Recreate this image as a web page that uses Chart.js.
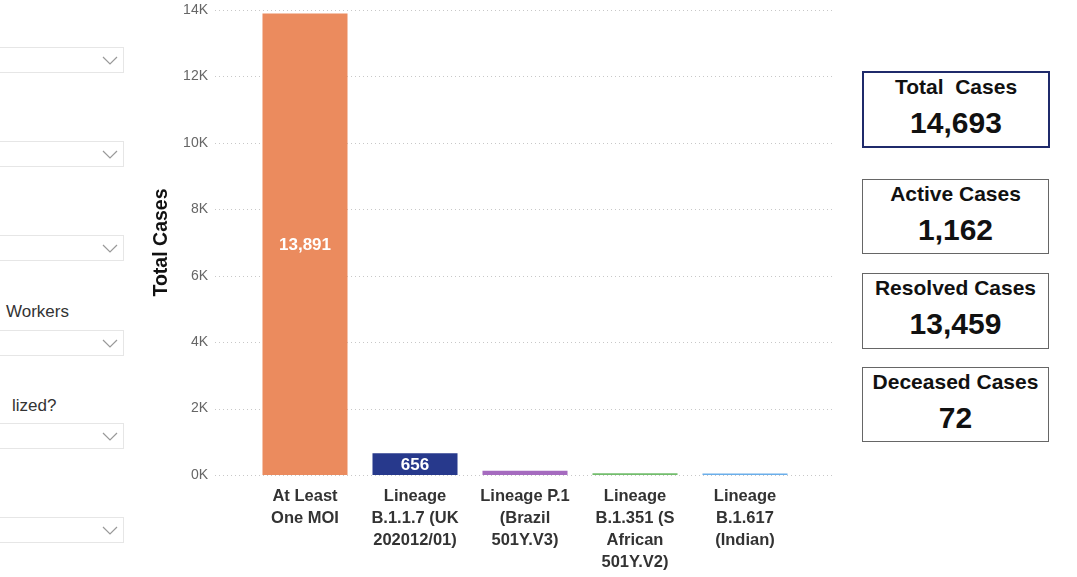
<!DOCTYPE html>
<html>
<head>
<meta charset="utf-8">
<script src="https://cdn.jsdelivr.net/npm/chart.js@4"></script>
<style>
    body { margin: 0; width: 1077px; height: 577px; background: #fff; position: relative; overflow: hidden;
           font-family: "Liberation Sans", Arial, sans-serif; }
    .drop { position: absolute; left: -2px; width: 124px; height: 24px; border: 1px solid #e6e6e6; background: #fff; }
    .drop svg { position: absolute; right: 5px; top: 8px; }
    .lbl { position: absolute; font-size: 17px; color: #333; }
    #chart { position: absolute; left: 140px; top: 0; }
    .card { position: absolute; left: 862px; width: 185px; border: 1px solid #666; text-align: center; color: #111; background: #fff; }
    .card .t { font-weight: bold; font-size: 21px; line-height: 24px; margin-top: 2px; }
    .card .v { font-weight: bold; font-size: 30px; line-height: 34px; margin-top: 7px; }
</style>
</head>
<body>

<div class="drop" style="top:47px"><svg width="16" height="9"><polyline points="1,1 8,8 15,1" fill="none" stroke="#999" stroke-width="1.2"/></svg></div>
<div class="drop" style="top:141px"><svg width="16" height="9"><polyline points="1,1 8,8 15,1" fill="none" stroke="#999" stroke-width="1.2"/></svg></div>
<div class="drop" style="top:235px"><svg width="16" height="9"><polyline points="1,1 8,8 15,1" fill="none" stroke="#999" stroke-width="1.2"/></svg></div>
<div class="lbl" style="left:6px; top:302px">Workers</div>
<div class="drop" style="top:330px"><svg width="16" height="9"><polyline points="1,1 8,8 15,1" fill="none" stroke="#999" stroke-width="1.2"/></svg></div>
<div class="lbl" style="left:12px; top:396px">lized?</div>
<div class="drop" style="top:423px"><svg width="16" height="9"><polyline points="1,1 8,8 15,1" fill="none" stroke="#999" stroke-width="1.2"/></svg></div>
<div class="drop" style="top:517px"><svg width="16" height="9"><polyline points="1,1 8,8 15,1" fill="none" stroke="#999" stroke-width="1.2"/></svg></div>

<canvas id="chart" width="720" height="577"></canvas>

<div class="card" style="top:71px; width:184px; height:73px; border:2px solid #1f2a6b">
    <div class="t">Total&nbsp; Cases</div><div class="v">14,693</div>
</div>
<div class="card" style="top:179px; height:73px"><div class="t">Active Cases</div><div class="v">1,162</div></div>
<div class="card" style="top:273px; height:74px"><div class="t">Resolved Cases</div><div class="v">13,459</div></div>
<div class="card" style="top:367px; height:73px"><div class="t">Deceased Cases</div><div class="v">72</div></div>

<script>
var lineages = [
    ["At Least", "One MOI"],
    ["Lineage", "B.1.1.7 (UK", "202012/01)"],
    ["Lineage P.1", "(Brazil", "501Y.V3)"],
    ["Lineage", "B.1.351 (S", "African", "501Y.V2)"],
    ["Lineage", "B.1.617", "(Indian)"]
];
var totalCases = [13891, 656, 130, 55, 45];
var barColors = ["#EB8B5E", "#27398C", "#A56BBF", "#72BD6C", "#6AAEEA"];
var yTicks = [0, 2000, 4000, 6000, 8000, 10000, 12000, 14000];

var fontFam = "'Liberation Sans', Arial, sans-serif";

// dotted grid lines that run past the bars like in Power BI
var dottedGrid = {
    id: 'dottedGrid',
    beforeDatasetsDraw: function (chart) {
        var ctx = chart.ctx;
        var y = chart.scales.y;
        var area = chart.chartArea;
        ctx.save();
        ctx.strokeStyle = '#c8c8c8';
        ctx.lineWidth = 1;
        ctx.setLineDash([1, 3]);
        yTicks.forEach(function (v) {
            var py = Math.round(y.getPixelForValue(v)) + 0.5;
            ctx.beginPath();
            ctx.moveTo(area.left - 35, py);
            ctx.lineTo(area.right + 33, py);
            ctx.stroke();
        });
        ctx.restore();
    }
};

// values written in the middle of the bigger bars
var barLabels = {
    id: 'barLabels',
    afterDatasetsDraw: function (chart) {
        var ctx = chart.ctx;
        var meta = chart.getDatasetMeta(0);
        ctx.save();
        ctx.fillStyle = '#fff';
        ctx.font = 'bold 17px ' + fontFam;
        ctx.textAlign = 'center';
        ctx.textBaseline = 'middle';
        meta.data.forEach(function (bar, idx) {
            var v = totalCases[idx];
            if (v < 500) return;
            ctx.fillText(v.toLocaleString('en-US'), bar.x, (bar.y + bar.base) / 2 + 1);
        });
        ctx.restore();
    }
};

new Chart(document.getElementById('chart'), {
    type: 'bar',
    data: {
        labels: lineages,
        datasets: [{
            label: 'Total Cases',
            data: totalCases,
            backgroundColor: barColors,
            categoryPercentage: 1,
            barPercentage: 0.773
        }]
    },
    options: {
        responsive: false,
        animation: false,
        layout: { padding: { top: 10, right: 60, left: 0, bottom: 0 } },
        plugins: { legend: { display: false }, tooltip: { enabled: false } },
        scales: {
            x: {
                grid: { display: false, drawTicks: false },
                border: { display: false },
                ticks: {
                    maxRotation: 0, autoSkip: false, padding: 10,
                    color: '#333',
                    font: { family: fontFam, size: 16.5, weight: 'bold', lineHeight: '22px' }
                },
                afterFit: function (s) { s.height = 102; }
            },
            y: {
                min: 0, max: 14000,
                afterBuildTicks: function (s) { s.ticks = yTicks.map(function (v) { return { value: v }; }); },
                grid: { display: false, drawTicks: false },
                border: { display: false },
                ticks: {
                    padding: 42, color: '#666',
                    font: { family: fontFam, size: 14 },
                    callback: function (v) { return (v / 1000) + 'K'; }
                },
                title: {
                    display: true, text: 'Total Cases', color: '#111',
                    font: { family: fontFam, size: 19.5, weight: 'bold' },
                    padding: { top: 10, bottom: 4 }
                },
                afterFit: function (s) {
                    s.width = 110;
                    s.paddingTop = 0;
                    s.paddingBottom = 0;
                }
            }
        }
    },
    plugins: [dottedGrid, barLabels]
});
</script>
</body>
</html>
